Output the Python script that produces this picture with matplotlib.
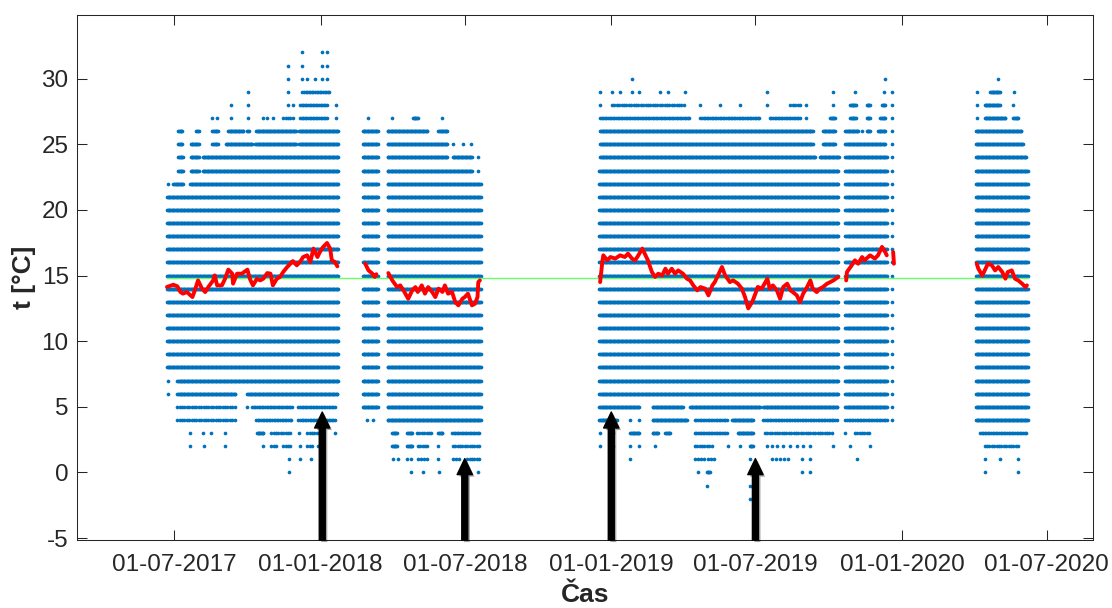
import numpy as np
import pandas as pd
import matplotlib
matplotlib.use("Agg")
import matplotlib.pyplot as plt
import matplotlib.dates as mdates
import matplotlib.patheffects as pe

plt.rcParams['font.family'] = ['Liberation Sans', 'DejaVu Sans']
plt.rcParams['axes.unicode_minus'] = False

# ---------------- data ----------------
# blocks where every integer temperature level is densely covered
core_start = ["2017-06-22", "2018-02-23", "2018-03-26", "2018-12-17", "2019-10-22", "2019-12-20", "2020-04-03"]
core_end   = ["2018-01-23", "2018-03-14", "2018-07-21", "2019-10-13", "2019-12-13", "2019-12-20", "2020-06-07"]
core_low   = [8, 5, 4, 6, 5, 4, 4]
core_high  = [21, 26, 22, 23, 24, 29, 23]

# additional observations: (level, first date, last date or None for a single day)
extra_rows = [
    # 2017-06 .. 2018-01
    (32, "2017-12-09", None), (32, "2018-01-03", None), (32, "2018-01-09", None),
    (31, "2017-11-21", None), (31, "2017-12-09", None), (31, "2018-01-03", None), (31, "2018-01-09", None),
    (30, "2017-11-21", None), (30, "2017-12-09", None), (30, "2017-12-15", None), (30, "2017-12-25", None),
    (30, "2018-01-03", None), (30, "2018-01-09", None),
    (29, "2017-10-02", None), (29, "2017-11-21", None),
    (28, "2017-09-11", None), (28, "2017-10-02", None), (28, "2017-11-21", None), (28, "2017-11-27", None),
    (28, "2018-01-20", None),
    (27, "2017-08-18", None), (27, "2017-08-24", None), (27, "2017-09-11", None), (27, "2017-10-02", None),
    (27, "2017-10-20", None), (27, "2017-10-26", None), (27, "2017-11-02", None), (27, "2018-01-20", None),
    (26, "2017-07-06", "2017-07-11"), (26, "2017-07-29", "2017-08-01"), (26, "2017-08-18", "2017-08-25"),
    (26, "2017-09-07", "2017-09-26"), (26, "2017-10-01", "2017-10-03"), (26, "2017-10-12", "2017-12-01"),
    (26, "2017-12-05", "2018-01-23"),
    (25, "2017-07-06", "2017-07-11"), (25, "2017-07-22", "2017-08-01"), (25, "2017-08-18", "2017-08-25"),
    (25, "2017-09-04", "2017-10-07"), (25, "2017-10-11", "2017-12-01"), (25, "2017-12-05", "2018-01-23"),
    (24, "2017-07-06", "2017-07-12"), (24, "2017-07-22", "2017-08-01"), (24, "2017-08-06", "2018-01-23"),
    (23, "2017-07-06", "2017-07-12"), (23, "2017-07-22", "2017-08-01"), (23, "2017-08-06", "2018-01-23"),
    (22, "2017-06-23", None), (22, "2017-06-30", "2017-07-12"), (22, "2017-07-21", "2018-01-23"),
    (7, "2017-06-23", None), (7, "2017-07-05", "2018-01-23"),
    (6, "2017-06-23", None), (6, "2017-07-05", "2017-09-16"), (6, "2017-10-01", "2018-01-22"),
    (5, "2017-10-01", None),
    (3, "2017-07-21", None), (3, "2017-08-06", None), (3, "2017-08-16", None), (3, "2017-09-03", None),
    (3, "2017-10-13", "2017-10-21"), (3, "2017-12-05", None), (3, "2018-01-19", None),
    (2, "2017-07-21", None), (2, "2017-08-08", None), (2, "2017-09-03", None), (2, "2017-10-21", None),
    (2, "2017-12-06", None), (2, "2017-12-29", None),
    (1, "2017-11-22", None), (1, "2017-12-06", None), (1, "2017-12-20", None),
    (0, "2017-11-22", None),
    # 2018-02 .. 2018-03
    (27, "2018-03-02", None), (4, "2018-02-28", None), (4, "2018-03-08", None),
    # 2018-03 .. 2018-07
    (27, "2018-04-01", None), (27, "2018-04-27", "2018-05-03"), (27, "2018-06-03", None),
    (26, "2018-03-26", "2018-05-15"), (26, "2018-05-29", "2018-06-09"),
    (25, "2018-03-26", "2018-06-09"), (25, "2018-06-16", None), (25, "2018-06-29", None), (25, "2018-07-09", None),
    (24, "2018-03-26", "2018-06-09"), (24, "2018-06-16", "2018-07-10"), (24, "2018-07-18", None),
    (23, "2018-03-26", "2018-07-10"), (23, "2018-07-18", None),
    (3, "2018-04-01", "2018-04-07"), (3, "2018-04-20", "2018-04-26"), (3, "2018-05-29", "2018-06-03"),
    (2, "2018-04-01", "2018-04-07"), (2, "2018-04-20", "2018-04-26"), (2, "2018-05-29", None),
    (1, "2018-04-02", None), (1, "2018-04-08", None), (1, "2018-04-20", None), (1, "2018-04-25", None),
    (1, "2018-05-29", None),
    (0, "2018-04-25", None), (0, "2018-05-10", None), (0, "2018-05-30", None), (0, "2018-07-18", None),
    # 2018-12 .. 2019-10
    (30, "2019-01-27", None),
    (29, "2018-12-18", None), (29, "2019-01-02", None), (29, "2019-01-12", None), (29, "2019-01-27", None),
    (29, "2019-02-05", None), (29, "2019-03-03", None), (29, "2019-03-13", None), (29, "2019-04-04", None),
    (29, "2019-07-16", None), (29, "2019-10-07", None),
    (28, "2018-12-18", None), (28, "2019-04-23", None), (28, "2019-05-18", None),
    (28, "2019-06-12", None), (28, "2019-07-16", None),
    (28, "2019-09-03", None), (28, "2019-10-07", None),
    (27, "2019-09-03", None), (27, "2019-10-03", "2019-10-09"),
    (26, "2018-12-18", "2019-09-11"), (26, "2019-09-24", "2019-10-09"),
    (25, "2018-12-18", "2019-09-11"), (25, "2019-09-24", "2019-10-09"),
    (24, "2018-12-18", "2019-09-14"), (24, "2019-09-20", "2019-10-14"),
    (5, "2018-12-17", "2019-02-05"), (5, "2019-02-22", "2019-04-01"), (5, "2019-04-10", "2019-07-07"),
    (5, "2019-07-11", "2019-10-12"),
    (4, "2018-12-17", "2019-01-08"), (4, "2019-01-25", None), (4, "2019-02-05", None),
    (4, "2019-02-22", "2019-04-06"), (4, "2019-06-02", "2019-06-28"),
    (3, "2018-12-18", None), (3, "2019-01-03", None), (3, "2019-01-25", "2019-02-05"),
    (3, "2019-02-22", "2019-03-01"), (3, "2019-03-10", "2019-03-16"),
    (3, "2019-06-09", "2019-06-28"),
    (2, "2018-12-18", None), (2, "2019-01-03", None), (2, "2019-01-25", None), (2, "2019-02-05", None),
    (2, "2019-02-25", None), (2, "2019-05-27", None), (2, "2019-06-12", None),
    (2, "2019-06-24", "2019-06-28"), (2, "2019-07-16", None), (2, "2019-07-22", None), (2, "2019-07-28", None),
    (2, "2019-08-05", None), (2, "2019-08-14", None), (2, "2019-08-22", None), (2, "2019-08-30", None),
    (2, "2019-09-08", None), (2, "2019-10-06", None),
    (1, "2019-01-25", None), (1, "2019-06-24", None), (1, "2019-08-29", None), (1, "2019-09-08", None),
    (0, "2019-04-20", None), (0, "2019-05-01", "2019-05-05"), (0, "2019-08-29", None), (0, "2019-09-08", None),
    (-1, "2019-05-01", None), (-1, "2019-06-24", None),
    (-2, "2019-06-24", None),
    # 2019-10 .. 2019-12
    (30, "2019-12-11", None),
    (29, "2019-11-03", None), (29, "2019-12-10", None),
    (28, "2019-10-28", "2019-11-04"), (28, "2019-11-18", "2019-11-22"), (28, "2019-12-07", "2019-12-11"),
    (27, "2019-10-28", "2019-11-04"), (27, "2019-11-18", "2019-11-22"), (27, "2019-12-05", "2019-12-11"),
    (26, "2019-10-22", "2019-11-07"), (26, "2019-11-12", None), (26, "2019-11-18", "2019-11-22"),
    (26, "2019-12-02", "2019-12-11"),
    (25, "2019-10-22", "2019-12-11"),
    (3, "2019-10-22", None),
    (2, "2019-10-28", None), (2, "2019-11-22", None),
    (1, "2019-11-06", None),
    # 2020-04 .. 2020-06
    (30, "2020-05-01", None),
    (29, "2020-04-04", None), (29, "2020-04-21", "2020-05-03"), (29, "2020-05-21", None),
    (28, "2020-04-04", None), (28, "2020-04-14", "2020-05-03"), (28, "2020-05-20", None),
    (27, "2020-04-04", None), (27, "2020-04-14", "2020-05-10"), (27, "2020-05-20", "2020-05-26"),
    (26, "2020-04-03", "2020-05-30"), (25, "2020-04-03", "2020-06-01"), (24, "2020-04-03", "2020-06-05"),
    (1, "2020-04-14", None), (1, "2020-05-03", None), (1, "2020-05-26", None),
    (0, "2020-04-14", None), (0, "2020-05-26", None),
]

# patchy stretches: (level, first date, last date, typical days between observed dots)
patchy_rows = [
    (29, "2017-12-09", "2018-01-13", 2), (28, "2017-12-06", "2018-01-10", 2),
    (27, "2017-11-15", "2017-11-27", 3), (27, "2017-12-06", "2018-01-10", 2),
    (5, "2017-07-05", "2017-09-16", 3), (5, "2017-10-07", "2017-11-26", 2), (5, "2017-12-04", "2018-01-19", 2),
    (4, "2017-07-05", "2017-09-16", 3), (4, "2017-10-12", "2017-11-26", 2), (4, "2017-12-04", "2018-01-19", 2),
    (3, "2017-10-31", "2017-11-26", 3), (3, "2017-12-15", "2017-12-31", 3),
    (2, "2017-10-31", "2017-11-07", 3), (2, "2017-11-15", "2017-11-24", 3), (2, "2017-12-15", "2017-12-21", 3),
    (3, "2018-05-02", "2018-05-21", 3), (3, "2018-06-15", "2018-07-20", 2),
    (2, "2018-05-03", "2018-05-15", 3), (2, "2018-06-16", "2018-07-20", 3),
    (1, "2018-05-03", "2018-05-15", 4), (1, "2018-06-16", "2018-06-25", 4), (1, "2018-07-04", "2018-07-20", 3),
    (28, "2019-01-02", "2019-04-04", 3), (28, "2019-08-14", "2019-08-26", 3),
    (27, "2018-12-18", "2019-04-10", 2), (27, "2019-04-23", "2019-07-07", 2), (27, "2019-07-19", "2019-08-26", 2),
    (4, "2019-04-16", "2019-05-27", 2), (4, "2019-07-11", "2019-10-12", 2),
    (3, "2019-04-16", "2019-05-27", 2), (3, "2019-07-13", "2019-10-07", 3),
    (2, "2019-04-16", "2019-05-09", 3),
    (1, "2019-04-16", "2019-05-11", 4), (1, "2019-07-22", "2019-08-14", 5),
    (4, "2019-10-22", "2019-12-13", 2), (3, "2019-11-03", "2019-11-22", 3),
    (3, "2020-04-08", "2020-06-05", 2), (2, "2020-04-14", "2020-05-27", 3),
]

# moving average (red), one list per continuous stretch
red_1_dates = ["2017-06-22", "2017-06-30", "2017-07-05", "2017-07-09", "2017-07-12", "2017-07-17", "2017-07-24",
               "2017-07-27", "2017-07-31", "2017-08-05", "2017-08-09", "2017-08-13", "2017-08-19", "2017-08-21",
               "2017-08-24", "2017-08-30", "2017-09-03", "2017-09-07", "2017-09-12", "2017-09-13", "2017-09-18",
               "2017-09-24", "2017-10-01", "2017-10-04", "2017-10-08", "2017-10-13", "2017-10-17", "2017-10-21",
               "2017-10-26", "2017-10-30", "2017-11-02", "2017-11-07", "2017-11-11", "2017-11-15", "2017-11-20",
               "2017-11-24", "2017-11-27", "2017-12-02", "2017-12-06", "2017-12-10", "2017-12-15", "2017-12-19",
               "2017-12-23", "2017-12-28", "2017-12-31", "2018-01-04", "2018-01-09", "2018-01-13", "2018-01-15",
               "2018-01-19", "2018-01-22"]
red_1_vals = [14.13, 14.30, 14.18, 13.74, 13.62, 13.74, 13.36, 13.87, 14.63, 14.0, 13.74, 14.13, 14.63, 15.01,
              14.25, 14.25, 14.76, 15.45, 15.14, 14.38, 15.14, 15.14, 15.45, 14.76, 14.25, 14.76, 14.63, 14.76,
              15.19, 15.14, 14.25, 14.76, 14.89, 15.27, 15.65, 15.9, 16.1, 15.78, 16.03, 16.41, 16.54, 16.03,
              17.05, 16.41, 16.79, 17.17, 17.48, 17.05, 16.16, 16.03, 15.70]
red_2_dates = ["2018-02-26", "2018-03-02", "2018-03-07", "2018-03-10", "2018-03-12"]
red_2_vals = [15.9, 15.4, 15.14, 14.89, 15.1]
red_3_dates = ["2018-03-27", "2018-04-01", "2018-04-07", "2018-04-11", "2018-04-15", "2018-04-21", "2018-04-26",
               "2018-04-30", "2018-05-03", "2018-05-08", "2018-05-12", "2018-05-16", "2018-05-21", "2018-05-25",
               "2018-05-29", "2018-06-03", "2018-06-06", "2018-06-10", "2018-06-15", "2018-06-19", "2018-06-23",
               "2018-06-28", "2018-07-01", "2018-07-05", "2018-07-10", "2018-07-14", "2018-07-17", "2018-07-18",
               "2018-07-20"]
red_3_vals = [15.19, 14.63, 14.12, 14.25, 13.87, 13.23, 13.87, 14.12, 13.75, 14.25, 13.62, 14.12, 13.75, 13.36,
              14.0, 13.75, 14.25, 13.62, 13.75, 12.98, 12.73, 13.23, 13.36, 13.62, 12.73, 12.86, 13.36, 14.5, 14.63]
red_4_dates = ["2018-12-18", "2018-12-21", "2018-12-22", "2018-12-27", "2018-12-31", "2019-01-06", "2019-01-12",
               "2019-01-18", "2019-01-22", "2019-01-27", "2019-01-31", "2019-02-04", "2019-02-09", "2019-02-13",
               "2019-02-16", "2019-02-21", "2019-02-25", "2019-03-01", "2019-03-06", "2019-03-10", "2019-03-13",
               "2019-03-18", "2019-03-22", "2019-03-26", "2019-04-01", "2019-04-06", "2019-04-10", "2019-04-14",
               "2019-04-19", "2019-04-23", "2019-04-29", "2019-05-03", "2019-05-08", "2019-05-11", "2019-05-15",
               "2019-05-20", "2019-05-24", "2019-05-30", "2019-06-03", "2019-06-09", "2019-06-14", "2019-06-18",
               "2019-06-22", "2019-06-27", "2019-07-01", "2019-07-04", "2019-07-09", "2019-07-16", "2019-07-19",
               "2019-07-23", "2019-07-28", "2019-08-01", "2019-08-05", "2019-08-10", "2019-08-14", "2019-08-17",
               "2019-08-22", "2019-08-26", "2019-08-30", "2019-09-04", "2019-09-08", "2019-09-11", "2019-09-16",
               "2019-09-20", "2019-09-24", "2019-09-29", "2019-10-03", "2019-10-07", "2019-10-13"]
red_4_vals = [14.5, 16.16, 16.54, 16.16, 16.41, 16.29, 16.54, 16.41, 16.67, 16.29, 16.16, 16.54, 17.05, 16.54,
              16.16, 15.27, 14.89, 15.14, 15.01, 15.52, 15.14, 15.52, 15.14, 15.39, 15.14, 14.76, 14.63, 14.25,
              13.87, 14.12, 14.0, 13.49, 14.25, 14.5, 15.01, 15.65, 15.01, 14.5, 14.63, 14.38, 14.0, 13.36,
              12.5, 12.98, 13.62, 14.13, 14.0, 14.76, 14.0, 14.25, 13.87, 13.23, 14.13, 14.38, 13.87, 13.74,
              13.49, 12.98, 13.62, 14.13, 14.63, 14.0, 13.74, 14.0, 14.13, 14.38, 14.5, 14.63, 14.89]
red_5_dates = ["2019-10-23", "2019-10-24", "2019-10-30", "2019-11-03", "2019-11-07", "2019-11-12", "2019-11-15",
               "2019-11-22", "2019-11-28", "2019-12-02", "2019-12-07", "2019-12-11", "2019-12-13"]
red_5_vals = [14.63, 15.27, 15.78, 16.16, 15.9, 16.41, 16.16, 16.54, 16.29, 16.54, 17.18, 16.79, 16.54]
red_6_dates = ["2019-12-21", "2019-12-22"]
red_6_vals = [16.79, 15.9]
red_7_dates = ["2020-04-04", "2020-04-06", "2020-04-11", "2020-04-14", "2020-04-18", "2020-04-23", "2020-04-27",
               "2020-05-01", "2020-05-06", "2020-05-10", "2020-05-13", "2020-05-18", "2020-05-22", "2020-05-26",
               "2020-05-31", "2020-06-04", "2020-06-06"]
red_7_vals = [15.9, 15.52, 15.0, 15.39, 15.9, 15.78, 15.39, 15.65, 15.27, 14.76, 15.27, 15.39, 14.76, 14.63,
              14.38, 14.12, 14.25]

mean_value = 14.8
mean_span = ["2017-06-22", "2020-06-07"]

arrow_dates = ["2018-01-03", "2018-07-01", "2019-01-01", "2019-07-01"]
arrow_tips = [4.6, 1.05, 4.6, 1.05]

xtick_dates = ["2017-07-01", "2018-01-01", "2018-07-01", "2019-01-01", "2019-07-01", "2020-01-01", "2020-07-01"]
yticks = [-5, 0, 5, 10, 15, 20, 25, 30]
x_limits = ["2017-03-01", "2020-08-28"]
y_limits = (-5.15, 34.85)

# ---------------- expand observations ----------------
xs, ys = [], []
for s, e, lo, hi in zip(core_start, core_end, core_low, core_high):
    days = pd.date_range(s, e, freq="D")
    for lev in range(lo, hi + 1):
        xs.extend(days)
        ys.extend([lev] * len(days))
for lev, s, e in extra_rows:
    days = pd.date_range(s, e if e else s, freq="D")
    xs.extend(days)
    ys.extend([lev] * len(days))
for lev, s, e, gap in patchy_rows:
    days = pd.date_range(s, e, freq=f"{gap}D")
    xs.extend(days)
    ys.extend([lev] * len(days))

# ---------------- draw ----------------
fig = plt.figure(figsize=(11.12, 6.08), dpi=100)
ax = fig.add_axes([77 / 1112, 68 / 608, 1016 / 1112, 525 / 608])

ax.scatter(xs, ys, s=7, color="#0072BD", marker="o", linewidths=0, zorder=2)
ax.plot(pd.to_datetime(mean_span), [mean_value, mean_value], color="#66FF66", lw=1.0, zorder=3)
for d, v in [(red_1_dates, red_1_vals), (red_2_dates, red_2_vals), (red_3_dates, red_3_vals),
             (red_4_dates, red_4_vals), (red_5_dates, red_5_vals), (red_6_dates, red_6_vals),
             (red_7_dates, red_7_vals)]:
    ax.plot(pd.to_datetime(d), v, color="#FF0000", lw=2.8, solid_joinstyle="round",
            solid_capstyle="round", zorder=4)

for d, tip in zip(arrow_dates, arrow_tips):
    xd = mdates.date2num(pd.Timestamp(d))
    ann = ax.annotate("", xy=(xd, tip), xytext=(xd, y_limits[0]),
                      arrowprops=dict(facecolor="black", edgecolor="black", width=4.3,
                                      headwidth=11, headlength=11.5, shrink=0),
                      annotation_clip=False, zorder=5)
    ann.arrow_patch.set_path_effects([pe.SimplePatchShadow(offset=(1.5, -1.5), alpha=0.35), pe.Normal()])

ax.set_xlim(pd.Timestamp(x_limits[0]), pd.Timestamp(x_limits[1]))
ax.set_ylim(*y_limits)
ax.set_xticks(pd.to_datetime(xtick_dates))
ax.xaxis.set_major_formatter(mdates.DateFormatter("%d-%m-%Y"))
ax.set_yticks(yticks)

txt = "#262626"
for sp in ax.spines.values():
    sp.set_color(txt)
    sp.set_linewidth(0.75)
ax.tick_params(axis="both", direction="in", length=7, width=0.75, color=txt,
               labelcolor=txt, labelsize=17.5, top=True, right=True)
ax.tick_params(axis="x", pad=10)
ax.tick_params(axis="y", pad=6)

ax.set_xlabel("Čas", fontsize=19, fontweight="bold", color=txt, labelpad=5)
ax.set_ylabel("t [°C]", fontsize=19, fontweight="bold", color=txt, labelpad=4)

fig.savefig("out.png", dpi=100)
